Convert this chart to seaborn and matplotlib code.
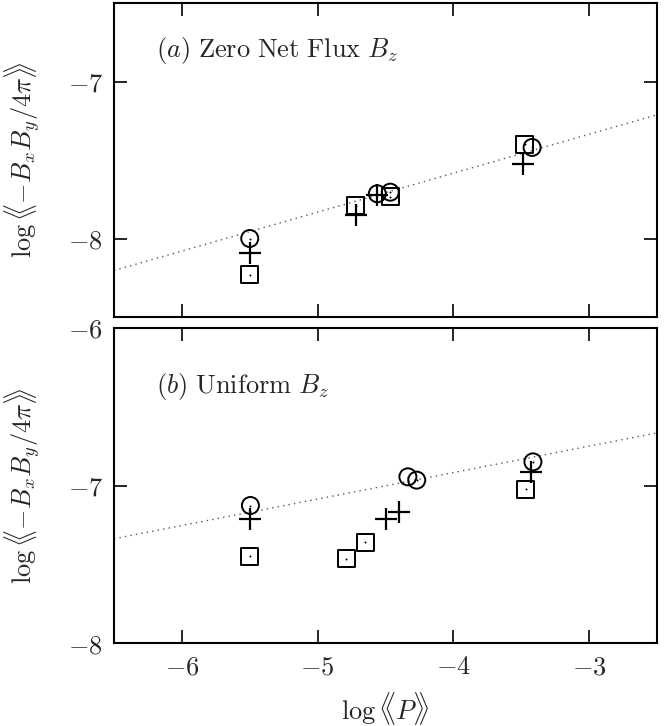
import numpy as np
import pandas as pd
import seaborn as sns
import matplotlib
matplotlib.use("Agg")
import matplotlib.pyplot as plt
from matplotlib.ticker import FixedLocator, FuncFormatter

# --- data: log <<P>> versus log <<-BxBy/4pi>> ---
# (a) zero net flux Bz
zero_circle_x = [-5.50, -4.56, -4.465, -3.42]
zero_circle_y = [-8.00, -7.715, -7.705, -7.42]
zero_square_x = [-5.50, -4.72, -4.465, -3.475]
zero_square_y = [-8.23, -7.79, -7.735, -7.40]
zero_plus_x = [-5.50, -4.72, -4.56, -3.49]
zero_plus_y = [-8.09, -7.85, -7.72, -7.525]
zero_fit = (-6.592, 0.248)   # intercept, slope

# (b) uniform Bz
unif_circle_x = [-5.495, -4.335, -4.27, -3.414]
unif_circle_y = [-7.127, -6.945, -6.966, -6.85]
unif_square_x = [-5.50, -4.79, -4.65, -3.467]
unif_square_y = [-7.45, -7.465, -7.36, -7.025]
unif_plus_x = [-5.50, -4.50, -4.40, -3.43]
unif_plus_y = [-7.21, -7.21, -7.17, -6.915]
unif_fit = (-6.246, 0.168)

x_ticks = [-6, -5, -4, -3]
zero_y_ticks = [-8, -7]
unif_y_ticks = [-8, -7, -6]

sns.set_theme(style="ticks")
plt.rcParams.update({
    "mathtext.fontset": "cm",
    "font.family": ["DejaVu Serif"],
    "axes.linewidth": 1.5,
    "xtick.direction": "in",
    "ytick.direction": "in",
    "xtick.major.size": 9.5,
    "ytick.major.size": 9.5,
    "xtick.major.width": 1.4,
    "ytick.major.width": 1.4,
    "axes.edgecolor": "black",
})

fig = plt.figure(figsize=(6.67, 7.26), dpi=100)
left, width = 114 / 667, (657 - 114) / 667
ax_top = fig.add_axes([left, 1 - 317 / 726, width, (317 - 3) / 726])
ax_bot = fig.add_axes([left, 1 - 643 / 726, width, (643 - 328) / 726])

xlim = (-6.5, -2.5)
mfmt = FuncFormatter(lambda v, p: r"$%d$" % int(round(v)))
ylabel = r"$\log\langle\!\!\langle {-}B_x B_y/4\pi\rangle\!\!\rangle$"


def draw_panel(ax, cx, cy, sx, sy, px, py, fit, yticks, ylim, title, ty):
    # fitted power law
    fx = np.array(xlim)
    line = pd.DataFrame({"x": fx, "y": fit[0] + fit[1] * fx})
    sns.lineplot(data=line, x="x", y="y", ax=ax, color="0.35", lw=1.0,
                 linestyle=(0, (1, 3)), zorder=1)
    # simulation points
    sns.scatterplot(x=cx, y=cy, ax=ax, marker="o", s=150, color="black",
                    facecolors="none", edgecolor="black", linewidth=1.4,
                    zorder=3)
    sns.scatterplot(x=sx, y=sy, ax=ax, marker="s", s=150, color="black",
                    facecolors="none", edgecolor="black", linewidth=1.4,
                    zorder=3)
    sns.scatterplot(x=px, y=py, ax=ax, marker="+", s=230, color="black",
                    linewidth=1.6, zorder=3)
    # centre dots of open symbols
    sns.scatterplot(x=cx + sx, y=cy + sy, ax=ax, marker="o", s=2,
                    color="black", edgecolor="black", linewidth=0, zorder=4)
    ax.set_xlim(*xlim)
    ax.set_ylim(*ylim)
    ax.xaxis.set_major_locator(FixedLocator(x_ticks))
    ax.yaxis.set_major_locator(FixedLocator(yticks))
    ax.yaxis.set_major_formatter(mfmt)
    ax.tick_params(top=True, right=True, labelsize=19, pad=8)
    ax.set_ylabel(ylabel, fontsize=19)
    ax.yaxis.set_label_coords(-0.13, 0.5)
    ax.set_xlabel("")
    ax.text(-6.19, ty, title, fontsize=19, va="center", ha="left")
    for s in ax.spines.values():
        s.set_linewidth(1.5)


draw_panel(ax_top, zero_circle_x, zero_circle_y, zero_square_x, zero_square_y,
           zero_plus_x, zero_plus_y, zero_fit, zero_y_ticks, (-8.5, -6.5),
           r"$(a)\ \mathrm{Zero\ Net\ Flux}\ B_z$", -6.80)
ax_top.tick_params(labelbottom=False)

draw_panel(ax_bot, unif_circle_x, unif_circle_y, unif_square_x, unif_square_y,
           unif_plus_x, unif_plus_y, unif_fit, unif_y_ticks, (-8.0, -6.0),
           r"$(b)\ \mathrm{Uniform}\ B_z$", -6.37)
ax_bot.xaxis.set_major_formatter(mfmt)
ax_bot.set_xlabel(r"$\log\langle\!\!\langle P\rangle\!\!\rangle$",
                  fontsize=19, labelpad=8)

fig.savefig("out.png", dpi=100)
